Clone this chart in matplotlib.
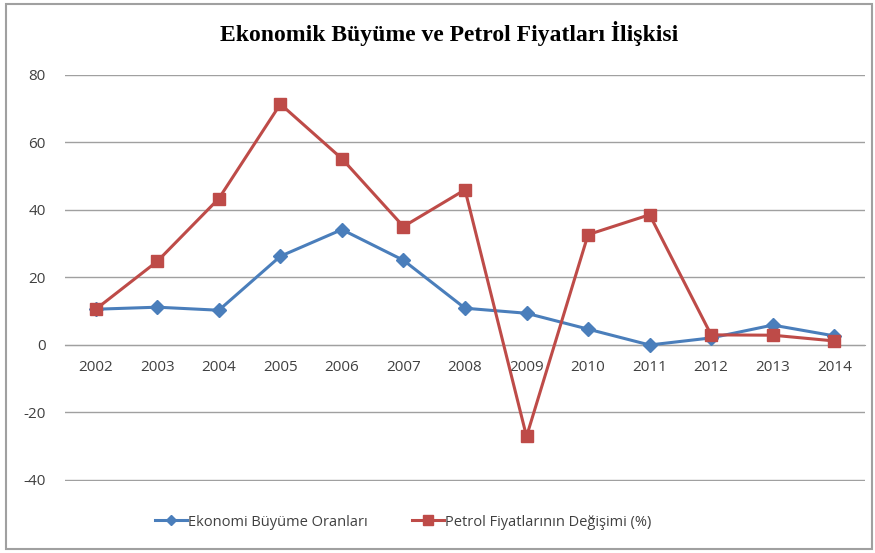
import matplotlib.pyplot as plt
from matplotlib.patches import Rectangle
from matplotlib.lines import Line2D

plt.rcParams['axes.unicode_minus'] = False

years = ['2002', '2003', '2004', '2005', '2006', '2007', '2008',
         '2009', '2010', '2011', '2012', '2013', '2014']
growth = [10.6, 11.2, 10.3, 26.3, 34.2, 25.1, 10.9, 9.4, 4.7, 0.0, 2.1, 5.9, 2.7]
oil = [10.6, 24.8, 43.4, 71.4, 55.2, 35.1, 46.0, -27.1, 32.7, 38.6, 3.0, 2.9, 1.2]
yticks = [-40, -20, 0, 20, 40, 60, 80]
names = ['Ekonomi Büyüme Oranları', 'Petrol Fiyatlarının Değişimi (%)']

blue = '#4A7EBB'
red = '#BE4B48'

fig = plt.figure(figsize=(8.75, 5.53), dpi=100)
ax = fig.add_axes([65 / 875, 1 - 481 / 553, 800 / 875, 406 / 553])

x = list(range(len(years)))
ax.plot(x, growth, color=blue, lw=2.2, marker='D', ms=7, mec=blue, zorder=3)
ax.plot(x, oil, color=red, lw=2.2, marker='s', ms=9, mec=red, zorder=3)

ax.set_xlim(-0.5, len(years) - 0.5)
ax.set_ylim(-40.3, 80)
ax.set_yticks(yticks)
ax.set_xticks(x)
ax.set_xticklabels(years)
ax.grid(axis='y', color='#A0A0A0', lw=1)
ax.set_axisbelow(True)
for s in ['top', 'right', 'left']:
    ax.spines[s].set_visible(False)
ax.spines['bottom'].set_position(('data', 0))
ax.spines['bottom'].set_color('#A0A0A0')
ax.tick_params(axis='both', length=0, labelsize=11, labelcolor='#404040')
ax.tick_params(axis='y', pad=14)
ax.tick_params(axis='x', pad=11)
for lab in ax.get_xticklabels() + ax.get_yticklabels():
    lab.set_family('Open Sans')

fig.text(449 / 875, 1 - 33 / 553, 'Ekonomik Büyüme ve Petrol Fiyatları İlişkisi',
         ha='center', va='center', fontsize=17, fontweight='bold',
         family='Liberation Serif')

handles = [Line2D([], [], color=blue, lw=2.2, marker='D', ms=5, mec=blue),
           Line2D([], [], color=red, lw=2.2, marker='s', ms=7, mec=red)]
leg = fig.legend(handles, names, loc='center', bbox_to_anchor=(403 / 875, 1 - 522 / 553),
                 ncol=2, frameon=False, handlelength=2.2, columnspacing=3.0,
                 handletextpad=0.1, prop={'family': 'Open Sans', 'size': 10.5})
for t in leg.get_texts():
    t.set_color('#404040')

fig.patches.append(Rectangle((6 / 875, 4 / 553), 866 / 875, 545 / 553,
                             transform=fig.transFigure, fill=False,
                             edgecolor='#A0A0A0', lw=1.5))

fig.savefig('out.png', dpi=100)
